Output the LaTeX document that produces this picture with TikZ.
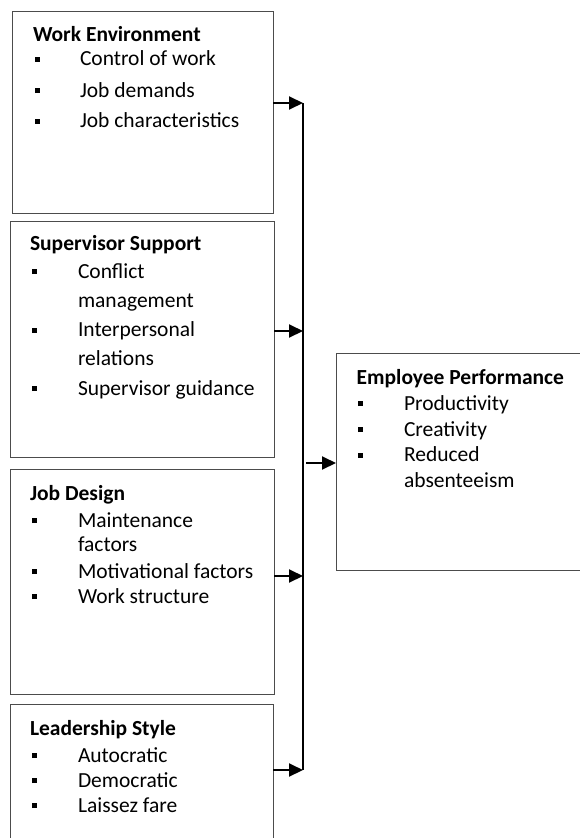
\documentclass[tikz,border=0pt]{standalone}
\usepackage{fontspec}
\setmainfont{Carlito}
\usetikzlibrary{arrows.meta}
\newcommand\bul{\rule[4pt]{5pt}{5pt}}
\begin{document}
\begin{tikzpicture}[x=1pt,y=-1pt,
  box/.style={draw=black!70, line width=1pt, inner sep=0pt, outer sep=0pt},
  txt/.style={anchor=base west, inner sep=0pt, outer sep=0pt, font=\fontsize{21.5}{25}\selectfont},
  ttl/.style={txt, font=\fontsize{21.5}{25}\selectfont\bfseries},
  bus/.style={line width=2pt, black},
  arr/.style={line width=2pt, black, -{Triangle[length=14pt,width=13pt]}}]
\fill[white] (0,0) rectangle (579,838);
\useasboundingbox (0,0) rectangle (579,838);

% boxes
\node[box, minimum width=261pt, minimum height=202pt] (b1) at (142.5,112) {};
\node[box, minimum width=264pt, minimum height=236pt] (b2) at (142,339) {};
\node[box, minimum width=264pt, minimum height=225pt] (b3) at (142,581.5) {};
\node[box, minimum width=263pt, minimum height=160pt] (b4) at (141.5,784) {};
\node[box, minimum width=270pt, minimum height=217pt] (emp) at (471,461.5) {};

% texts box 1
\node[ttl] (t1) at (33,41) {Work Environment};
\node[txt] (t1a) at (35,65.7) {\bul\hspace{40pt}Control of work};
\node[txt] (t1b) at (35,97) {\bul\hspace{40pt}Job demands};
\node[txt] (t1c) at (35,127.7) {\bul\hspace{40pt}Job characteristics};

% texts box 2
\node[ttl] (t2) at (30,250) {Supervisor Support};
\node[txt] (t2a) at (32,278) {\bul\hspace{41pt}Conflict};
\node[txt] (t2b) at (78,307.7) {management};
\node[txt] (t2c) at (32,336.7) {\bul\hspace{41pt}Interpersonal};
\node[txt] (t2d) at (78,365) {relations};
\node[txt] (t2e) at (32,395) {\bul\hspace{41pt}Supervisor guidance};

% texts box 3
\node[ttl] (t3) at (30,500) {Job Design};
\node[txt] (t3a) at (32,527) {\bul\hspace{41pt}Maintenance};
\node[txt] (t3b) at (78,551) {factors};
\node[txt] (t3c) at (32,578) {\bul\hspace{41pt}Motivational factors};
\node[txt] (t3d) at (32,603) {\bul\hspace{41pt}Work structure};

% texts box 4
\node[ttl] (t4) at (30,735) {Leadership Style};
\node[txt] (t4a) at (32,762) {\bul\hspace{41pt}Autocratic};
\node[txt] (t4b) at (32,787) {\bul\hspace{41pt}Democratic};
\node[txt] (t4c) at (32,812) {\bul\hspace{41pt}Laissez fare};

% texts employee box
\node[ttl] (t5) at (356.7,384) {Employee Performance};
\node[txt] (t5a) at (358,410) {\bul\hspace{41pt}Productivity};
\node[txt] (t5b) at (358,436) {\bul\hspace{41pt}Creativity};
\node[txt] (t5c) at (358,461.7) {\bul\hspace{41pt}Reduced};
\node[txt] (t5d) at (404,487) {absenteeism};

% connectors
\coordinate (j1) at (303,103);
\coordinate (j2) at (303,331);
\coordinate (j3) at (303,576);
\coordinate (j4) at (303,770);
\coordinate (j0) at (306,463);
\draw[bus] (j1) -- (j4);
\draw[arr] (j1 -| b1.east) -- (j1);
\draw[arr] (j2 -| b2.east) -- (j2);
\draw[arr] (j3 -| b3.east) -- (j3);
\draw[arr] (j4 -| b4.east) -- (j4);
\draw[arr] (j0) -- (j0 -| emp.west);
\end{tikzpicture}
\end{document}
